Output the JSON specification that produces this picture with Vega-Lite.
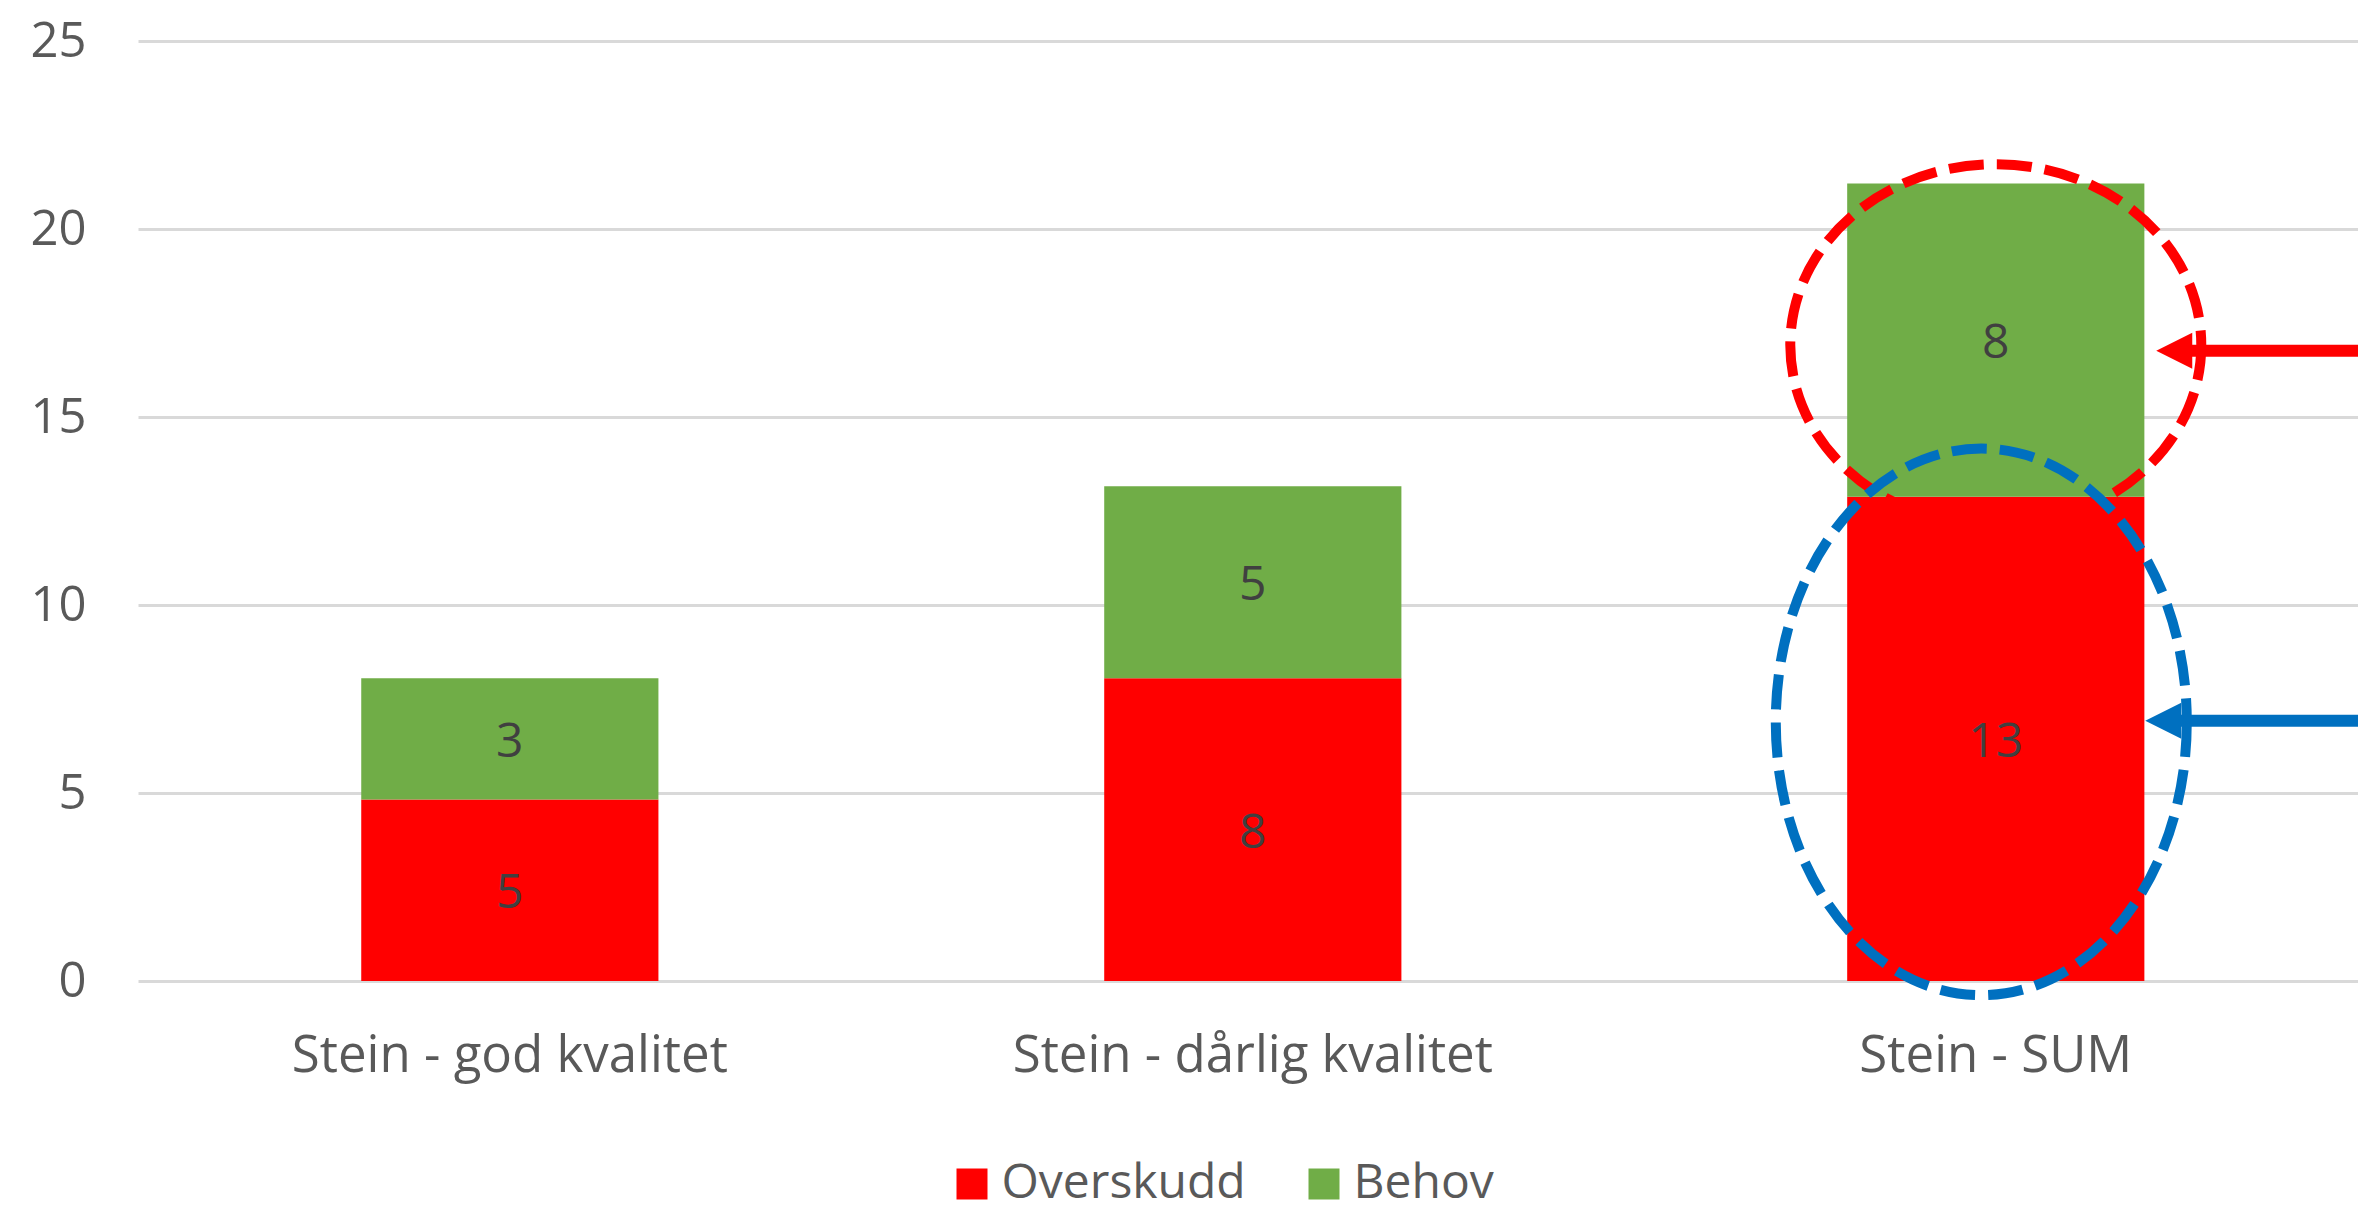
{
  "$schema": "https://vega.github.io/schema/vega-lite/v6.json",
  "width": 2220,
  "height": 940,
  "autosize": {"type": "none"},
  "padding": {"left": 138, "top": 41, "right": 0, "bottom": 227},
  "background": "white",
  "config": {"view": {"stroke": null}, "font": "Open Sans"},
  "data": {
    "values": [
      {"kategori": "Stein - god kvalitet", "serie": "Overskudd", "verdi": 4.83},
      {"kategori": "Stein - god kvalitet", "serie": "Behov", "verdi": 3.22},
      {"kategori": "Stein - dårlig kvalitet", "serie": "Overskudd", "verdi": 8.05},
      {"kategori": "Stein - dårlig kvalitet", "serie": "Behov", "verdi": 5.11},
      {"kategori": "Stein - SUM", "serie": "Overskudd", "verdi": 12.88},
      {"kategori": "Stein - SUM", "serie": "Behov", "verdi": 8.33}
    ]
  },
  "transform": [
    {"stack": "verdi", "groupby": ["kategori"], "sort": [{"field": "serie", "order": "descending"}], "as": ["v0", "v1"]}
  ],
  "layer": [
    {
      "mark": {"type": "bar"},
      "encoding": {
        "x": {
          "field": "kategori", "type": "nominal", "title": null,
          "sort": ["Stein - god kvalitet", "Stein - dårlig kvalitet", "Stein - SUM"],
          "scale": {"paddingInner": 0.6, "paddingOuter": 0.294, "align": 0.511},
          "axis": {"labelAngle": 0, "domain": false, "ticks": false, "labelFontSize": 51, "labelColor": "#595959", "labelPadding": 50, "labelFont": "Open Sans", "labelLimit": 0}
        },
        "y": {
          "field": "v0", "type": "quantitative", "title": null,
          "scale": {"domain": [0, 25], "nice": false},
          "axis": {"values": [0, 5, 10, 15, 20, 25], "domain": false, "ticks": false, "grid": true, "gridColor": "#d9d9d9", "gridWidth": 3, "labelFontSize": 49, "labelColor": "#595959", "labelPadding": 52, "labelFont": "Open Sans"}
        },
        "y2": {"field": "v1"},
        "color": {
          "field": "serie", "type": "nominal",
          "scale": {"domain": ["Overskudd", "Behov"], "range": ["#ff0000", "#70ad47"]},
          "legend": {"orient": "none", "legendX": 810, "legendY": 1119, "direction": "horizontal", "title": null, "symbolType": "square", "symbolSize": 961, "symbolStrokeWidth": 0, "symbolOpacity": 1, "labelFontSize": 48, "labelColor": "#595959", "labelFont": "Open Sans", "labelOffset": 5.5, "columnPadding": 54, "padding": 0, "labelLimit": 0}
        }
      }
    },
    {
      "transform": [
        {"fold": ["v0", "v1"], "as": ["k", "kant"]},
        {"aggregate": [{"op": "mean", "field": "kant", "as": "midt"}, {"op": "max", "field": "verdi", "as": "verdi"}], "groupby": ["kategori", "serie"]}
      ],
      "encoding": {
        "x": {"field": "kategori", "type": "nominal", "title": null, "sort": ["Stein - god kvalitet", "Stein - dårlig kvalitet", "Stein - SUM"]},
        "y": {"field": "midt", "type": "quantitative", "title": null}
      },
      "layer": [
        {
          "mark": {"type": "text", "fontSize": 48, "color": "#404040", "baseline": "middle", "font": "Open Sans", "dy": 4},
          "encoding": {"text": {"field": "verdi", "type": "quantitative", "format": ".0f"}}
        },
        {
          "transform": [{"filter": {"and": [{"field": "kategori", "equal": "Stein - SUM"}, {"field": "serie", "equal": "Behov"}]}}],
          "layer": [
            {
              "mark": {"type": "point", "shape": "M 1 0 C 1 0.486 0.5523 0.88 0 0.88 C -0.5523 0.88 -1 0.486 -1 0 C -1 -0.486 -0.5523 -0.88 0 -0.88 C 0.5523 -0.88 1 -0.486 1 0 Z", "size": 168921, "filled": false, "stroke": "#ff0000", "strokeWidth": 10, "strokeDash": [35, 13], "opacity": 1, "yOffset": 5},
              "encoding": {}
            },
            {
              "mark": {"type": "rule", "stroke": "#ff0000", "strokeWidth": 12, "xOffset": 186, "x2Offset": 500, "yOffset": 10.6},
              "encoding": {"x2": {"field": "kategori"}}
            },
            {
              "mark": {"type": "point", "shape": "M -1 0 L 1 -1 L 1 1 Z", "size": 1296, "filled": true, "color": "#ff0000", "opacity": 1, "strokeWidth": 0, "xOffset": 178.5, "yOffset": 10.6},
              "encoding": {}
            }
          ]
        },
        {
          "transform": [{"filter": {"and": [{"field": "kategori", "equal": "Stein - SUM"}, {"field": "serie", "equal": "Overskudd"}]}}],
          "layer": [
            {
              "mark": {"type": "point", "shape": "M 1 0 C 1 0.7346 0.5523 1.33 0 1.33 C -0.5523 1.33 -1 0.7346 -1 0 C -1 -0.7346 -0.5523 -1.33 0 -1.33 C 0.5523 -1.33 1 -0.7346 1 0 Z", "size": 168921, "filled": false, "stroke": "#0070c0", "strokeWidth": 10, "strokeDash": [35, 13], "opacity": 1, "xOffset": -14.5, "yOffset": -17},
              "encoding": {}
            },
            {
              "mark": {"type": "rule", "stroke": "#0070c0", "strokeWidth": 12, "xOffset": 175, "x2Offset": 500, "yOffset": -18},
              "encoding": {"x2": {"field": "kategori"}}
            },
            {
              "mark": {"type": "point", "shape": "M -1 0 L 1 -1 L 1 1 Z", "size": 1296, "filled": true, "color": "#0070c0", "opacity": 1, "strokeWidth": 0, "xOffset": 167.5, "yOffset": -18},
              "encoding": {}
            }
          ]
        }
      ]
    }
  ]
}
